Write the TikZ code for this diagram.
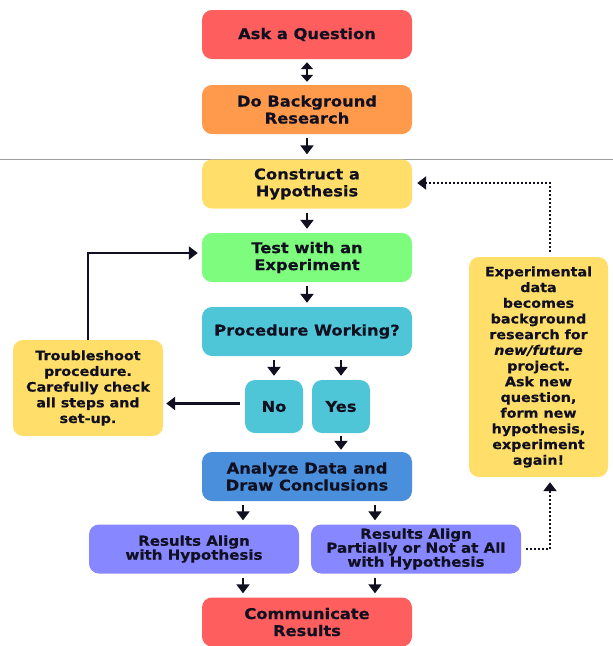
\documentclass[tikz,border=0pt]{standalone}
\usepackage{fontspec}
\setmainfont{DejaVu Sans}[FakeStretch=1.1, BoldFeatures={FakeBold=0.4}, BoldItalicFeatures={FakeBold=0.4}]
\usetikzlibrary{arrows.meta}

\definecolor{ink}{HTML}{101020}
\definecolor{askred}{HTML}{FF5E5E}
\definecolor{bgorange}{HTML}{FF9A4D}
\definecolor{hypyellow}{HTML}{FFDE6A}
\definecolor{testgreen}{HTML}{7DFC7D}
\definecolor{proccyan}{HTML}{4FC6D8}
\definecolor{anablue}{HTML}{4A8FDC}
\definecolor{respurple}{HTML}{8787FF}

\tikzset{
  box/.style={rounded corners=10pt, draw=none, text=ink, align=center,
    inner sep=0pt, font=\bfseries\fontsize{14.8}{17}\selectfont},
  mainbox/.style={box, minimum width=210pt, minimum height=49pt},
  sidebox/.style={box, font=\bfseries\fontsize{13}{15.7}\selectfont},
  resbox/.style={box, minimum width=210pt, minimum height=49pt,
    fill=respurple, font=\bfseries\fontsize{13.7}{14}\selectfont},
  arr/.style={line width=2.2pt, draw=ink, -{Triangle[width=13pt,length=9pt]}},
  twoway/.style={line width=2.2pt, draw=ink,
    {Triangle[width=12pt,length=7pt]}-{Triangle[width=12pt,length=7pt]}},
  dotarr/.style={line width=2.2pt, draw=ink, dash pattern=on 2pt off 2pt,
    -{Triangle[width=13pt,length=9pt]}},
}

\begin{document}
\begin{tikzpicture}[x=1pt, y=-1pt]
  \useasboundingbox (0,0) rectangle (613,646);

  % separator rule
  \draw[gray!75, line width=0.8pt] (0,159.5) -- (613,159.5);

  % main column
  \node[mainbox, fill=askred]    (ask)   at (307,34.5)  {Ask a Question};
  \node[mainbox, fill=bgorange]  (bg)    at (307,109.5) {Do Background\\Research};
  \node[mainbox, fill=hypyellow] (hyp)   at (307,184)   {Construct a\\Hypothesis};
  \node[mainbox, fill=testgreen] (test)  at (307,257.5) {Test with an\\Experiment};
  \node[mainbox, fill=proccyan]  (proc)  at (307,331.5) {Procedure Working?};
  \node[box, fill=proccyan, minimum width=58pt, minimum height=53pt] (no)  at (274,406.5) {No};
  \node[box, fill=proccyan, minimum width=58pt, minimum height=53pt] (yes) at (341,406.5) {Yes};
  \node[mainbox, fill=anablue]   (ana)   at (307,476.5) {Analyze Data and\\Draw Conclusions};
  \node[resbox] (resA) at (194,549) {Results Align\\with Hypothesis};
  \node[resbox] (resB) at (416,549) {Results Align\\Partially or Not at All\\with Hypothesis};
  \node[mainbox, fill=askred]    (comm)  at (307,622)   {Communicate\\Results};

  % side boxes
  \node[sidebox, fill=hypyellow, minimum width=150pt, minimum height=96pt] (fix) at (88,388)
    {Troubleshoot\\procedure.\\Carefully check\\all steps and\\set-up.};
  \node[sidebox, fill=hypyellow, minimum width=139pt, minimum height=220pt] (loop) at (538.5,367)
    {Experimental\\data\\becomes\\background\\research for\\\textit{new/future}\\project.\\Ask new\\question,\\form new\\hypothesis,\\experiment\\again!};

  % connectors of the main column
  \draw[twoway, shorten <=3pt, shorten >=3pt] (ask) -- (bg);
  \draw[arr, shorten <=4pt, shorten >=5pt] (bg) -- (hyp);
  \draw[arr, shorten <=4pt, shorten >=4pt] (hyp) -- (test);
  \draw[arr, shorten <=4pt, shorten >=4pt] (test) -- (proc);
  \draw[arr, shorten <=4pt, shorten >=4pt] (proc.south -| no) -- (no);
  \draw[arr, shorten <=4pt, shorten >=4pt] (proc.south -| yes) -- (yes);
  \draw[arr, shorten <=3pt, shorten >=2pt] (yes) -- (yes |- ana.north);
  \draw[arr, shorten <=4pt, shorten >=4pt] ([xshift=-64pt]ana.south) -- ([xshift=-64pt]ana.south |- resA.north);
  \draw[arr, shorten <=4pt, shorten >=4pt] ([xshift=68pt]ana.south) -- ([xshift=68pt]ana.south |- resB.north);
  \draw[arr, shorten <=4pt, shorten >=4pt] ([xshift=-64pt]comm.north |- resA.south) -- ([xshift=-64pt]comm.north);
  \draw[arr, shorten <=4pt, shorten >=4pt] ([xshift=68pt]comm.north |- resB.south) -- ([xshift=68pt]comm.north);

  % troubleshooting loop
  \draw[arr, shorten <=5pt, shorten >=3pt] ([yshift=3pt]no.west) -- ([yshift=3pt]no.west -| fix.east);
  \draw[arr] (fix.north) |- ([xshift=-4pt,yshift=4.5pt]test.west);

  % new-project loop
  \draw[dotarr] ([xshift=11.5pt,yshift=5pt]loop.north) |- ([xshift=5pt,yshift=1pt]hyp.east);
  \draw[dotarr] ([xshift=5pt]resB.east) -| ([xshift=11.5pt,yshift=-5pt]loop.south);
\end{tikzpicture}
\end{document}
